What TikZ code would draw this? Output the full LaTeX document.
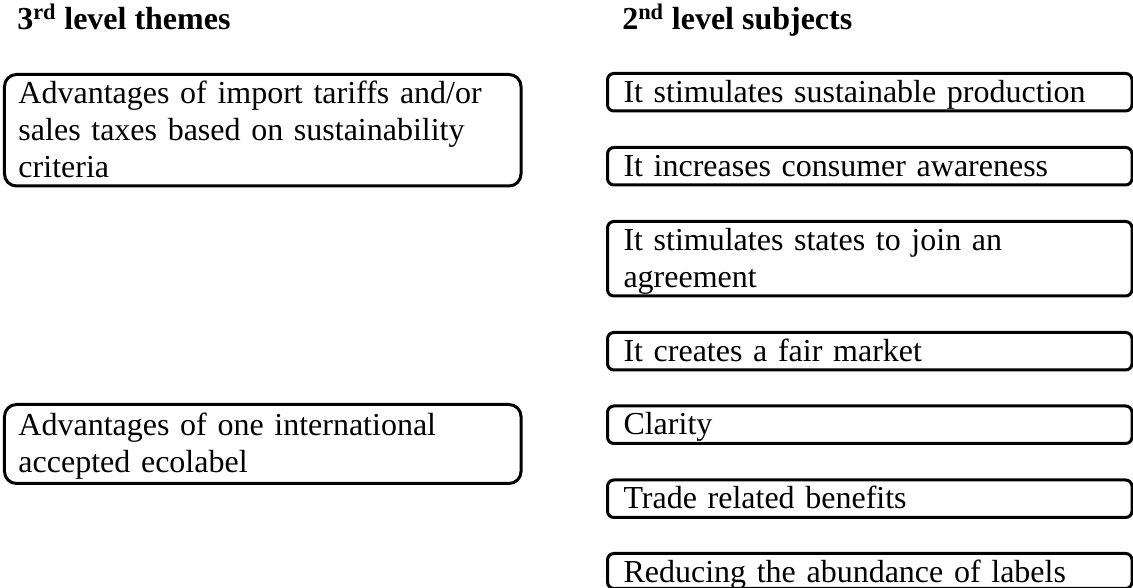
\documentclass[tikz,border=0pt]{standalone}
\usepackage{fontspec}
\setmainfont{Liberation Serif}

\begin{document}
\begin{tikzpicture}[
  every node/.style={font=\fontsize{22.76pt}{26.32pt}\selectfont},
  head/.style={anchor=base west,inner sep=0pt,font=\fontsize{22.76pt}{26.32pt}\selectfont\bfseries},
  theme/.style={draw,line width=0.075cm,rounded corners=0.3cm,anchor=north west,inner xsep=0.35cm,inner ysep=0pt,
    text width=12.2125cm,align=left,text height=0.725cm,text depth=#1},
  theme/.default=0.2125cm,
  subject/.style={draw,line width=0.075cm,rounded corners=0.16cm,anchor=north west,inner xsep=0.4cm,inner ysep=0pt,
    text width=12.3125cm,align=left,text height=0.725cm,text depth=#1},
  subject/.default=0.2125cm]
\useasboundingbox (0,0) rectangle (28.325,14.7);
% column heads
\node[head] (hdthemes) at (0.425,13.95) {3\textsuperscript{rd} level themes};
\node[head] (hdsubjects) at (15.55,13.95) {2\textsuperscript{nd} level subjects};
% 3rd level
\node[theme=2.0625cm] (theme1) at (0.075,12.875) {Advantages of import tariffs and/or\\sales taxes based on sustainability\\criteria};
\node[theme=1.1875cm,text height=0.7875cm] (theme2) at (0.075,4.625) {Advantages of one international\\accepted ecolabel};
% 2nd level
\node[subject] (subj1) at (15.15,12.9) {It stimulates sustainable production};
\node[subject] (subj2) at (15.15,11.05) {It increases consumer awareness};
\node[subject=1.1375cm] (subj3) at (15.15,9.2) {It stimulates states to join an\\agreement};
\node[subject] (subj4) at (15.15,6.425) {It creates a fair market};
\node[subject] (subj5) at (15.15,4.5875) {Clarity};
\node[subject] (subj6) at (15.15,2.7375) {Trade related benefits};
\node[subject=0.15cm] (subj7) at (15.15,0.9) {Reducing the abundance of labels};
\end{tikzpicture}
\end{document}
